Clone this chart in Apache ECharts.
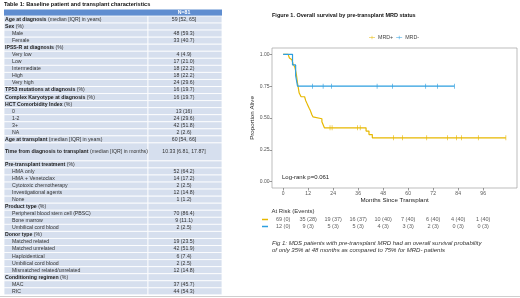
<!DOCTYPE html>
<html>
<head>
<meta charset="utf-8">
<script src="https://cdn.jsdelivr.net/npm/echarts@6/dist/echarts.min.js"></script>
<style>
  html, body { margin: 0; padding: 0; background: #fff; }
  #chart { width: 520px; height: 298px; }
</style>
</head>
<body>
<div id="chart"></div>
<script>
// ---- Table 1 ----
var tableTitle = 'Table 1: Baseline patient and transplant characteristics';
var tableHeader = 'N=81';
// arrays = section row [bold part, rest], strings = indented items
var rowLabels = [
  ['Age at diagnosis', ' (median [IQR] in years)'],
  ['Sex', ' (%)'],
  'Male', 'Female',
  ['IPSS-R at diagnosis', ' (%)'],
  'Very low', 'Low', 'Intermediate', 'High', 'Very high',
  ['TP53 mutations at diagnosis', ' (%)'],
  ['Complex Karyotype at diagnosis', ' (%)'],
  ['HCT Comorbidity Index', ' (%)'],
  '0', '1-2', '3+', 'NA',
  ['Age at transplant', ' (median [IQR] in years)'],
  ['Time from diagnosis to transplant', ' (median [IQR] in months)'],
  ['Pre-transplant treatment', ' (%)'],
  'HMA only', 'HMA + Venetoclax', 'Cytotoxic chemotherapy', 'Investigational agents', 'None',
  ['Product type', ' (%)'],
  'Peripheral blood stem cell (PBSC)', 'Bone marrow', 'Umbilical cord blood',
  ['Donor type', ' (%)'],
  'Matched related', 'Matched unrelated', 'Haploidentical', 'Umbilical cord blood', 'Mismatched related/unrelated',
  ['Conditioning regimen', ' (%)'],
  'MAC', 'RIC'
];
var rowValues = [
  '59 [52, 65]',
  '', '48 (59.3)', '33 (40.7)',
  '', '4 (4.9)', '17 (21.0)', '18 (22.2)', '18 (22.2)', '24 (29.6)',
  '16 (19.7)',
  '16 (19.7)',
  '', '13 (16)', '24 (29.6)', '42 (51.8)', '2 (2.6)',
  '60 [54, 66]',
  '10.33 [6.81, 17.87]',
  '', '52 (64.2)', '14 (17.2)', '2 (2.5)', '12 (14.8)', '1 (1.2)',
  '', '70 (86.4)', '9 (11.1)', '2 (2.5)',
  '', '19 (23.5)', '42 (51.9)', '6 (7.4)', '2 (2.5)', '12 (14.8)',
  '', '37 (45.7)', '44 (54.3)'
];

// ---- Figure 1: Kaplan-Meier ----
var posTimes = [0, 2.4, 3.0, 3.6, 4.2, 4.7, 5.2, 5.6, 5.8, 6.0, 6.2, 6.35, 6.5, 6.6, 6.7, 6.8, 6.95, 7.1, 7.25, 7.4, 7.55, 7.7, 7.9, 8.6,
  10.3, 10.8, 11.2, 11.6, 12.0, 12.5, 13.0, 13.4, 13.8, 14.3, 14.6, 18.6, 19.2, 19.8, 39.8, 41.2, 42.8, 106.9];
var posSurv = [1, 0.986, 0.971, 0.957, 0.942, 0.928, 0.913, 0.899, 0.884, 0.870, 0.855, 0.841, 0.826, 0.812, 0.797, 0.783, 0.768, 0.754, 0.739, 0.725, 0.710, 0.696, 0.681, 0.667,
  0.652, 0.638, 0.623, 0.609, 0.594, 0.577, 0.560, 0.543, 0.526, 0.509, 0.494, 0.470, 0.447, 0.423, 0.397, 0.370, 0.344, 0.344];
var posCensor = [22.5, 23.5, 35.7, 37.0, 53.0, 57.3, 68.9, 78.9, 83.2, 85.6, 93.7, 106.9];

var negTimes = [0, 4.5, 6.0, 6.9, 82.2];
var negSurv = [1, 0.917, 0.833, 0.75, 0.75];
var negCensor = [14.1, 19.2, 23.2, 45.1, 52.5, 68.4, 74.1, 82.2];

var xTicks = [0, 12, 24, 36, 48, 60, 72, 84, 96];
var yTicks = [0, 0.25, 0.5, 0.75, 1];

// at risk (events)
var riskTimes = [0, 12, 24, 36, 48, 60, 72, 84, 96];
var posRisk = [69, 35, 19, 16, 10, 7, 6, 4, 1];
var posEvents = [0, 28, 37, 37, 40, 40, 40, 40, 40];
var negRisk = [12, 9, 5, 5, 4, 3, 2, 0, 0];
var negEvents = [0, 3, 3, 3, 3, 3, 3, 3, 3];

var caption = ['Fig 1: MDS patients with pre-transplant MRD had an overall survival probability',
  'of only 35% at 48 months as compared to 75% for MRD- patients'];

var colPos = '#E7B800';
var colNeg = '#2E9FDF';
var font = 'Liberation Sans, Arial, sans-serif';

function survAt(times, surv, t) {
  var s = surv[0];
  for (var i = 0; i < times.length; i++) {
    if (times[i] <= t) s = surv[i];
  }
  return s;
}

function pairs(times, surv) {
  return times.map(function (t, i) { return [t, surv[i]]; });
}

function censorData(times, surv, cens) {
  return cens.map(function (t) { return [t, survAt(times, surv, t)]; });
}

function riskData(counts, events, row) {
  return riskTimes.map(function (t, i) { return [t, row, counts[i] + ' (' + events[i] + ')']; });
}

// table drawn as graphic elements
var graphics = [];
var tx0 = 4, tx1 = 148, tx2 = 222, valX = 184;
graphics.push({
  type: 'text', style: { text: tableTitle, x: tx0, y: 4, fontSize: 5.6, fontWeight: 'bold', fontFamily: font, fill: '#111', verticalAlign: 'middle' }
});
graphics.push({ type: 'rect', shape: { x: tx0, y: 9.5, width: tx2 - tx0, height: 6.5 }, style: { fill: '#5f8dd0' } });
graphics.push({
  type: 'text', style: { text: tableHeader, x: valX, y: 12.8, fontSize: 5.2, fontWeight: 'bold', fontFamily: font, fill: '#fff', align: 'center', verticalAlign: 'middle' }
});
var ry = 16;
rowLabels.forEach(function (lab, i) {
  var h = (Array.isArray(lab) && lab[0].indexOf('Time from') === 0) ? 18 : 7.05;
  graphics.push({ type: 'rect', shape: { x: tx0, y: ry, width: tx1 - tx0, height: h }, style: { fill: '#d6dfee', stroke: '#fff', lineWidth: 0.8 } });
  graphics.push({ type: 'rect', shape: { x: tx1, y: ry, width: tx2 - tx1, height: h }, style: { fill: '#d6dfee', stroke: '#fff', lineWidth: 0.8 } });
  var isSec = Array.isArray(lab);
  graphics.push({
    type: 'text',
    style: {
      text: isSec ? '{b|' + lab[0] + '}' + lab[1] : lab,
      x: isSec ? 5 : 12, y: ry + h / 2,
      fontSize: 5.2, fontFamily: font, fill: '#333', verticalAlign: 'middle',
      rich: { b: { fontSize: 5.2, fontFamily: font, fontWeight: 'bold', fill: '#222' } }
    }
  });
  if (rowValues[i]) {
    graphics.push({
      type: 'text',
      style: { text: rowValues[i], x: valX, y: ry + h / 2, fontSize: 5.2, fontFamily: font, fill: '#333', align: 'center', verticalAlign: 'middle' }
    });
  }
  ry += h;
});

// figure texts
graphics.push({ type: 'text', style: { text: 'Log-rank p=0.061', x: 282, y: 177, fontSize: 6, fontFamily: font, fill: '#222', verticalAlign: 'middle' } });
graphics.push({ type: 'text', style: { text: 'At Risk (Events)', x: 271.5, y: 211, fontSize: 6, fontFamily: font, fill: '#333', verticalAlign: 'middle' } });
caption.forEach(function (c, i) {
  graphics.push({ type: 'text', style: { text: c, x: 272, y: 243.3 + i * 7, fontSize: 6, fontStyle: 'italic', fontFamily: font, fill: '#333', verticalAlign: 'middle' } });
});
graphics.push({ type: 'rect', shape: { x: 0, y: 296, width: 520, height: 1 }, style: { fill: '#cfcfcf' } });

var legendIcon = 'path://M0,4.4H14V5.6H0Z M6.4,1H7.6V9H6.4Z';

var riskLabel = { show: true, position: 'inside', fontSize: 5.5, color: '#333', formatter: function (p) { return p.value[2]; } };

var chart = echarts.init(document.getElementById('chart'));
chart.setOption({
  animation: false,
  backgroundColor: '#fff',
  textStyle: { fontFamily: font },
  title: {
    text: 'Figure 1. Overall survival by pre-transplant MRD status',
    left: 272, top: 12, padding: 0,
    textStyle: { fontSize: 5.5, fontWeight: 'bold', color: '#111', fontFamily: font }
  },
  legend: {
    left: 369, top: 35, padding: 0,
    itemWidth: 6, itemHeight: 5, itemGap: 3,
    textStyle: { fontSize: 5.3, color: '#444', padding: [0, 0, 0, -2] },
    data: [{ name: 'MRD+', icon: legendIcon }, { name: 'MRD-', icon: legendIcon }]
  },
  grid: [
    { left: 272, top: 48, width: 245, height: 140, show: true, borderColor: '#a0a0a0', borderWidth: 0.7, containLabel: false },
    { left: 272, top: 216, width: 245, height: 14, containLabel: false }
  ],
  xAxis: [{
    type: 'value', gridIndex: 0, min: -5.35, max: 112.25,
    name: 'Months Since Transplant', nameLocation: 'middle', nameGap: 9,
    nameTextStyle: { fontSize: 6.2, color: '#222' },
    axisLine: { show: false, onZero: false },
    axisTick: { show: true, length: 2.5, customValues: xTicks, lineStyle: { color: '#555', width: 0.6 } },
    axisLabel: { customValues: xTicks, fontSize: 5, color: '#555', margin: 3 },
    splitLine: { show: false }
  }, {
    type: 'value', gridIndex: 1, min: -5.35, max: 112.25, show: false
  }],
  yAxis: [{
    type: 'value', gridIndex: 0, min: -0.05, max: 1.05,
    name: 'Proportion Alive', nameLocation: 'middle', nameGap: 17,
    nameTextStyle: { fontSize: 6.2, color: '#222' },
    axisLine: { show: false, onZero: false },
    axisTick: { show: true, length: 2.5, customValues: yTicks, lineStyle: { color: '#555', width: 0.6 } },
    axisLabel: { customValues: yTicks, fontSize: 5, color: '#555', margin: 2.5, formatter: function (v) { return v.toFixed(2); } },
    splitLine: { show: false }
  }, {
    type: 'category', gridIndex: 1, data: ['MRD+', 'MRD-'], inverse: true,
    axisLine: { show: false }, axisTick: { show: false }, splitLine: { show: false },
    axisLabel: {
      margin: 4, interval: 0,
      formatter: function (v) { return v === 'MRD+' ? '{p|}' : '{n|}'; },
      rich: {
        p: { width: 6, height: 1.5, backgroundColor: colPos },
        n: { width: 6, height: 1.5, backgroundColor: colNeg }
      }
    }
  }],
  graphic: graphics,
  series: [{
    name: 'MRD+', type: 'line', step: 'end', xAxisIndex: 0, yAxisIndex: 0,
    data: pairs(posTimes, posSurv), showSymbol: false, color: colPos,
    lineStyle: { width: 1.2, color: colPos }
  }, {
    name: 'MRD+', type: 'scatter', xAxisIndex: 0, yAxisIndex: 0,
    data: censorData(posTimes, posSurv, posCensor), symbol: 'rect', symbolSize: [0.8, 5],
    itemStyle: { color: colPos }
  }, {
    name: 'MRD-', type: 'line', step: 'end', xAxisIndex: 0, yAxisIndex: 0,
    data: pairs(negTimes, negSurv), showSymbol: false, color: colNeg,
    lineStyle: { width: 1.2, color: colNeg }
  }, {
    name: 'MRD-', type: 'scatter', xAxisIndex: 0, yAxisIndex: 0,
    data: censorData(negTimes, negSurv, negCensor), symbol: 'rect', symbolSize: [0.8, 5],
    itemStyle: { color: colNeg }
  }, {
    name: 'riskPos', type: 'scatter', xAxisIndex: 1, yAxisIndex: 1,
    data: riskData(posRisk, posEvents, 0), symbolSize: 1, itemStyle: { color: 'transparent' },
    label: riskLabel
  }, {
    name: 'riskNeg', type: 'scatter', xAxisIndex: 1, yAxisIndex: 1,
    data: riskData(negRisk, negEvents, 1), symbolSize: 1, itemStyle: { color: 'transparent' },
    label: riskLabel
  }]
});
</script>
</body>
</html>
